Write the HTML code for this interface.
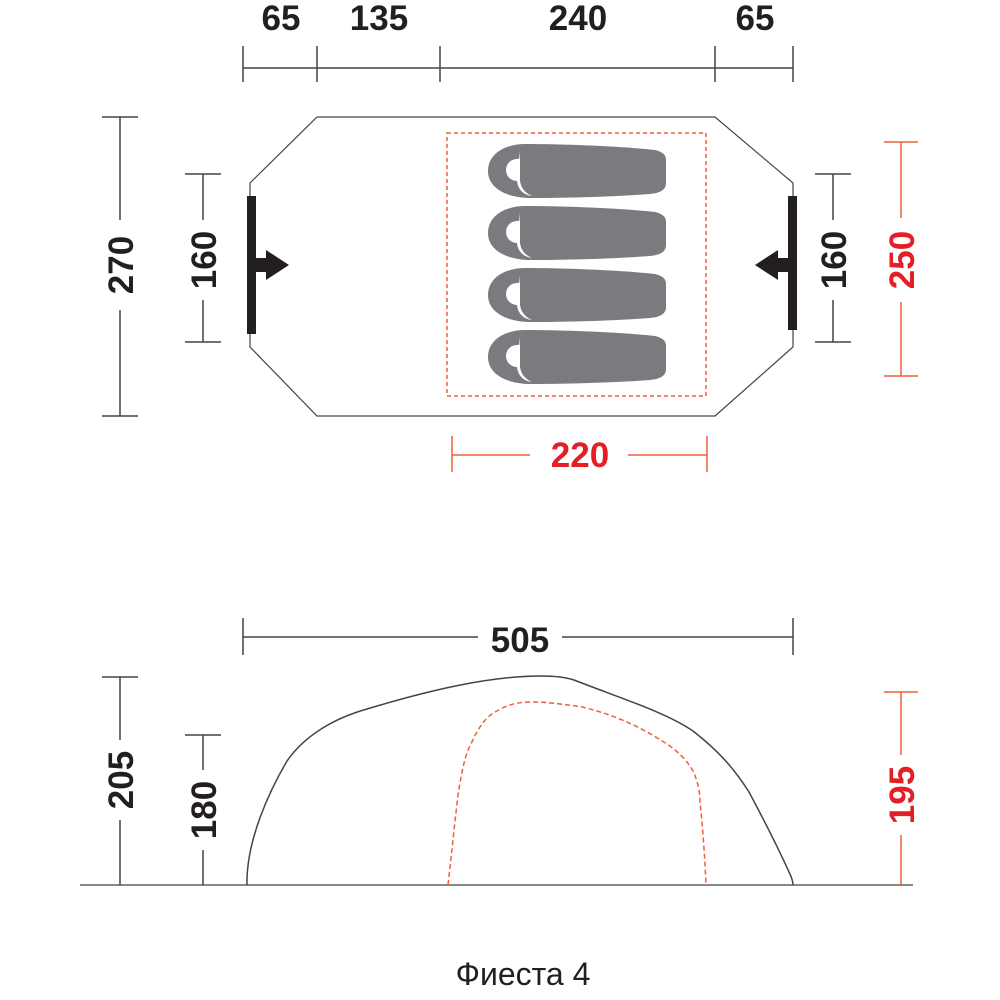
<!DOCTYPE html>
<html><head><meta charset="utf-8"><style>
html,body{margin:0;padding:0;background:#fff}
svg{display:block}
.t{font-family:"Liberation Sans",Arial,sans-serif;font-weight:bold;font-size:35px;fill:#231f20;text-anchor:middle}
.r{fill:#e31e24}
</style></head><body>
<svg width="1000" height="1000" viewBox="0 0 1000 1000" xmlns="http://www.w3.org/2000/svg">
<g stroke="#444" stroke-width="1.5" fill="none">
<line x1="243" y1="68" x2="793" y2="68"/>
<line x1="243" y1="46" x2="243" y2="82"/><line x1="317" y1="46" x2="317" y2="82"/>
<line x1="440" y1="46" x2="440" y2="82"/><line x1="715" y1="46" x2="715" y2="82"/><line x1="793" y1="46" x2="793" y2="82"/>
<line x1="120" y1="117" x2="120" y2="220"/><line x1="120" y1="310" x2="120" y2="416"/>
<line x1="102" y1="117" x2="138" y2="117"/><line x1="102" y1="416" x2="138" y2="416"/>
<line x1="203" y1="174" x2="203" y2="220"/><line x1="203" y1="300" x2="203" y2="342"/>
<line x1="185" y1="174" x2="221" y2="174"/><line x1="185" y1="342" x2="221" y2="342"/>
<line x1="833" y1="174" x2="833" y2="220"/><line x1="833" y1="300" x2="833" y2="342"/>
<line x1="815" y1="174" x2="851" y2="174"/><line x1="815" y1="342" x2="851" y2="342"/>
<polygon points="317,117 715,117 793,183 793,347 715,416 317,416 250,347 250,183" stroke-width="1.2"/>
<line x1="243" y1="637" x2="478" y2="637"/><line x1="562" y1="637" x2="793" y2="637"/>
<line x1="243" y1="618" x2="243" y2="655"/><line x1="793" y1="618" x2="793" y2="655"/>
<line x1="80" y1="885" x2="913" y2="885" stroke="#888" stroke-width="2"/>
<line x1="120" y1="677" x2="120" y2="740"/><line x1="120" y1="820" x2="120" y2="885"/>
<line x1="102" y1="677" x2="138" y2="677"/>
<line x1="203" y1="735" x2="203" y2="770"/><line x1="203" y1="850" x2="203" y2="885"/>
<line x1="185" y1="735" x2="221" y2="735"/>
<path d="M247,885 C246,840 270,790 287,761 C305,735 335,718 367,709 C430,690 490,676 541,676 C560,676 568,678 574,680 C620,698 665,712 693,731 C720,752 735,770 749,792 C765,822 780,852 789,872 C792,878 793,882 793,885" stroke-width="1.5"/>
</g>
<g stroke="#f0603a" stroke-width="1.5" fill="none">
<rect x="447" y="133" width="259" height="263" stroke-dasharray="4,3"/>
<line x1="901" y1="142" x2="901" y2="218"/><line x1="901" y1="302" x2="901" y2="376"/>
<line x1="884" y1="142" x2="918" y2="142"/><line x1="884" y1="376" x2="918" y2="376"/>
<line x1="452" y1="455" x2="530" y2="455"/><line x1="628" y1="455" x2="707" y2="455"/>
<line x1="452" y1="436" x2="452" y2="472"/><line x1="707" y1="436" x2="707" y2="472"/>
<line x1="901" y1="692" x2="901" y2="755"/><line x1="901" y1="835" x2="901" y2="885"/>
<line x1="884" y1="692" x2="918" y2="692"/>
<path d="M448,885 C452,850 455,820 458,795 C462,770 465,755 471,744 C478,728 486,716 497,711 C508,704 520,702 530,702 C550,702 568,705 582,707 C620,716 645,730 667,744 C680,753 688,762 693,771 C698,782 700,792 700,802 C703,830 705,860 706,885" stroke-dasharray="5,3"/>
</g>
<g fill="#7b7a7f">
<g id="b"><path d="M525,144 C560,144 620,146 655,150 C663,152 666,155 666,160 L666,183 C666,190 660,193 650,194 C610,197 560,198 530,198 C510,198 488,190 488,171 C488,152 508,144 525,144 Z"/>
<path d="M520,159 C512,158 506,163 506,170 C506,177 512,182 520,181 Z" fill="#fff"/>
<path d="M520,151 L520,181 C521,188 525,193 532,196 C524,195 518,190 517,181 Z" fill="#fff"/></g>
<use href="#b" y="62"/><use href="#b" y="124"/><use href="#b" y="186"/>
</g>
<g fill="#231f20">
<rect x="247" y="196" width="9" height="138"/>
<polygon points="256,258 266,258 266,250 289,265 266,280 266,272 256,272"/>
<rect x="788" y="196" width="9" height="134"/>
<polygon points="788,258 778,258 778,250 755,265 778,280 778,272 788,272"/>
</g>
<text class="t" x="281" y="30">65</text>
<text class="t" x="379" y="30">135</text>
<text class="t" x="578" y="30">240</text>
<text class="t" x="755" y="30">65</text>
<text class="t" transform="translate(133,265) rotate(-90)">270</text>
<text class="t" transform="translate(216,260) rotate(-90)">160</text>
<text class="t" transform="translate(846,260) rotate(-90)">160</text>
<text class="t r" transform="translate(914,260) rotate(-90)">250</text>
<text class="t r" x="580" y="467">220</text>
<text class="t" x="520" y="652">505</text>
<text class="t" transform="translate(133,780) rotate(-90)">205</text>
<text class="t" transform="translate(216,810) rotate(-90)">180</text>
<text class="t r" transform="translate(914,795) rotate(-90)">195</text>
<text x="523" y="985" style="font-family:'Liberation Sans',Arial,sans-serif;font-size:32px;fill:#231f20;text-anchor:middle">Фиеста 4</text>
</svg>
</body></html>
